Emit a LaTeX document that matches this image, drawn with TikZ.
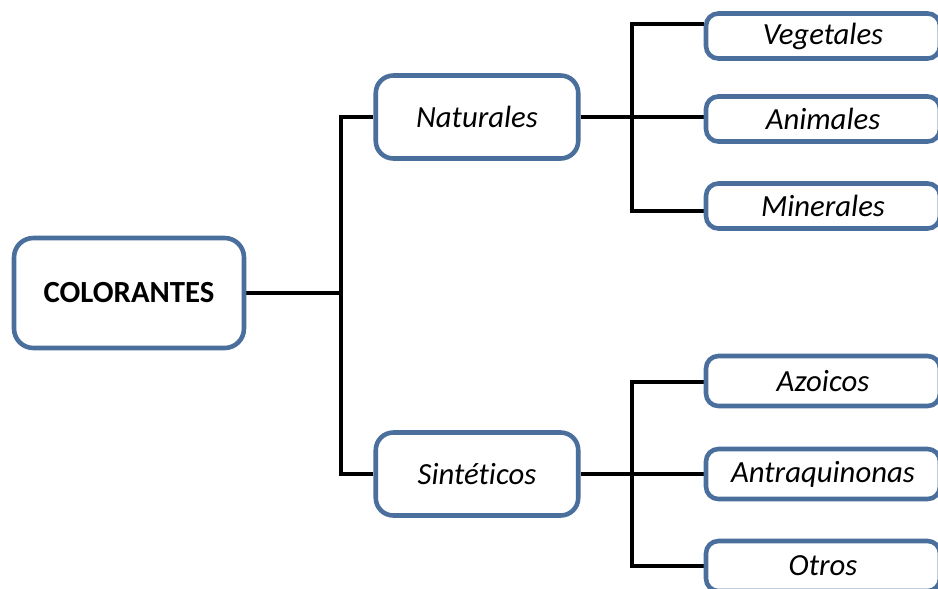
\documentclass[tikz,border=0pt]{standalone}
\usepackage{fontspec}
\setmainfont[Ligatures=CommonOff]{Carlito}
\usepackage{tikz}
\usetikzlibrary{calc}
\definecolor{boxblue}{RGB}{74,111,157}
\pgfdeclarelayer{nodelayer}
\pgfdeclarelayer{edgelayer}
\pgfsetlayers{edgelayer,nodelayer,main}
\tikzset{box/.style={draw=boxblue, fill=white, line width=2.6pt, rectangle,
text centered, font=\fontsize{17.5}{21}\selectfont}}
\tikzset{root/.style={box, rounded corners=11pt, minimum width=4.6cm, minimum height=2.2cm}}
\tikzset{mid/.style={box, rounded corners=10pt, minimum width=4.05cm, minimum height=1.66cm}}
\tikzset{leaf/.style={box, rounded corners=7pt, minimum width=4.68cm, minimum height=0.9cm}}
\tikzset{link/.style={line width=2.4pt, black}}
\begin{document}
\begin{tikzpicture}[x=0.02cm, y=-0.02cm]
	\useasboundingbox (0,0) rectangle (938,589);
	\begin{pgfonlayer}{nodelayer}
		\clip (0,0) rectangle (938,589);
		\node [style=root] (0) at (129, 293) {\textbf{COLORANTES}};
		\node [style=mid] (1) at (477, 117) {\textit{Naturales}};
		\node [style=mid] (2) at (477, 474) {\textit{Sintéticos}};
		\node [style=leaf] (3) at (823, 36) {\textit{Vegetales}};
		\node [style=leaf] (4) at (823, 119) {\textit{Animales}};
		\node [style=leaf] (5) at (823, 206) {\textit{Minerales}};
		\node [style=leaf, minimum height=1cm] (6) at (823, 381) {\textit{Azoicos}};
		\node [style=leaf, minimum height=1cm] (7) at (823, 474) {\textit{Antraquinonas}};
		\node [style=leaf, minimum height=1cm] (8) at (823, 566) {\textit{Otros}};
		\coordinate (9) at (341, 293);
		\coordinate (10) at (632, 117);
		\coordinate (11) at (632, 474);
	\end{pgfonlayer}
	\begin{pgfonlayer}{edgelayer}
		\clip (0,0) rectangle (938,589);
		\draw [style=link] (0.east) -- (9);
		\draw [style=link] (1.west) -| (9) |- (2.west);
		\draw [style=link] (1.east) -- (10);
		\draw [style=link] ($(3.north west)!.25!(3.south west)$) -| (10) |- ($(5.north west)!.6!(5.south west)$);
		\draw [style=link] (10) -- (4.west |- 10);
		\draw [style=link] (2.east) -- (11);
		\draw [style=link] ($(6.north west)!.52!(6.south west)$) -| (11) |- (8.west);
		\draw [style=link] (11) -- (7.west |- 11);
	\end{pgfonlayer}
\end{tikzpicture}
\end{document}
